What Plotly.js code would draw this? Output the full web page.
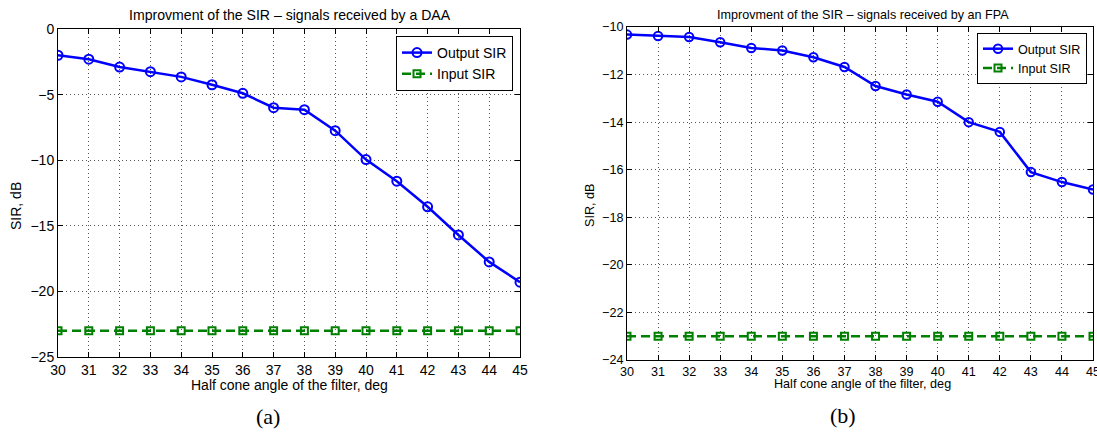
<!DOCTYPE html>
<html>
<head>
<meta charset="utf-8">
<script src="https://cdn.plot.ly/plotly-3.0.1.min.js"></script>
<style>html,body{margin:0;padding:0;background:#fff;}#chart{width:1097px;height:432px;}</style>
</head>
<body>
<div id="chart"></div>
<script>
// Data
const angles = [30,31,32,33,34,35,36,37,38,39,40,41,42,43,44,45];
const daaOutputSIR = [-2.0,-2.3,-2.9,-3.25,-3.65,-4.25,-4.9,-6.0,-6.15,-7.75,-9.95,-11.6,-13.55,-15.7,-17.75,-19.3];
const daaInputSIR  = [-23,-23,-23,-23,-23,-23,-23,-23,-23,-23,-23,-23,-23,-23,-23,-23];
const fpaOutputSIR = [-10.32,-10.38,-10.42,-10.64,-10.88,-10.99,-11.27,-11.68,-12.48,-12.84,-13.14,-14.0,-14.41,-16.1,-16.52,-16.83];
const fpaInputSIR  = [-23,-23,-23,-23,-23,-23,-23,-23,-23,-23,-23,-23,-23,-23,-23,-23];
const seriesNames = ['Output SIR','Input SIR'];
const titleA = 'Improvment of the SIR \u2013 signals received by a DAA';
const titleB = 'Improvment of the SIR \u2013 signals received by an FPA';
const xTitle = 'Half cone angle of the filter, deg';
const yTitle = 'SIR, dB';
const panelLabels = ['(a)','(b)'];

const W = 1097, H = 432;
const px = v => v / W;
const py = v => 1 - v / H;
const FONT = 'Liberation Sans, Arial, Helvetica, sans-serif';
const BLUE = '#0000ff', GREEN = '#008000';

function outTrace(y, xa, ya, lg, ms){
  return {x: angles, y: y, xaxis: xa, yaxis: ya, legend: lg, name: seriesNames[0], type: 'scatter', mode: 'lines+markers',
    line: {color: BLUE, width: 2.5}, marker: {symbol: 'circle-open', size: ms, color: BLUE, line: {width: 2, color: BLUE}}};
}
function inTrace(y, xa, ya, lg, ms){
  return {x: angles, y: y, xaxis: xa, yaxis: ya, legend: lg, name: seriesNames[1], type: 'scatter', mode: 'lines+markers',
    line: {color: GREEN, width: 2.5, dash: '9px,5px'}, marker: {symbol: 'square-open', size: ms, color: GREEN, line: {width: 2, color: GREEN}}};
}

const data = [
  outTrace(daaOutputSIR, 'x', 'y', 'legend', 9),
  inTrace(daaInputSIR, 'x', 'y', 'legend', 7),
  outTrace(fpaOutputSIR, 'x2', 'y2', 'legend2', 8.5),
  inTrace(fpaInputSIR, 'x2', 'y2', 'legend2', 7)
];

function axisBase(fs){
  return {showline: true, linecolor: '#000', linewidth: 1, mirror: 'ticks', ticks: 'inside', ticklen: 5, tickcolor: '#000',
    showgrid: true, gridcolor: '#555', gridwidth: 1, griddash: '1px,3px', zeroline: false, ticklabeloverflow: 'allow',
    tickfont: {family: FONT, size: fs, color: '#000'}, fixedrange: true};
}

function ann(text, x, y, size, extra){
  return Object.assign({text: text, x: px(x), y: py(y), xref: 'paper', yref: 'paper', xanchor: 'center', yanchor: 'middle',
    showarrow: false, font: {family: FONT, size: size, color: '#000'}}, extra || {});
}
const SERIF = {family: 'Liberation Serif, Times New Roman, serif', size: 22, color: '#000'};

const layout = {
  width: W, height: H,
  margin: {l: 0, r: 0, t: 0, b: 0},
  paper_bgcolor: '#fff', plot_bgcolor: '#fff',
  showlegend: true,
  xaxis: Object.assign(axisBase(14), {domain: [px(58), px(520)], range: [30, 45], tickvals: angles, anchor: 'y'}),
  yaxis: Object.assign(axisBase(14), {domain: [py(357), py(29)], range: [-25, 0], dtick: 5, anchor: 'x'}),
  xaxis2: Object.assign(axisBase(12.6), {domain: [px(627), px(1093)], range: [30, 45], tickvals: angles, anchor: 'y2'}),
  yaxis2: Object.assign(axisBase(12.6), {domain: [py(360), py(27)], range: [-24, -10], dtick: 2, anchor: 'x2'}),
  legend: {x: px(513), y: py(36), xanchor: 'right', yanchor: 'top', bgcolor: '#fff', bordercolor: '#000', borderwidth: 1,
    font: {family: FONT, size: 14, color: '#000'}, tracegroupgap: 0, itemwidth: 30},
  legend2: {x: px(1087), y: py(33), xanchor: 'right', yanchor: 'top', bgcolor: '#fff', bordercolor: '#000', borderwidth: 1,
    font: {family: FONT, size: 12.6, color: '#000'}, tracegroupgap: 0, itemwidth: 30},
  annotations: [
    ann(titleA, 290, 15, 14.1),
    ann(titleB, 863, 15, 12.6),
    ann(xTitle, 289, 385, 14),
    ann(xTitle, 862, 384, 12.6),
    ann(yTitle, 16, 206, 14, {textangle: -90}),
    ann(yTitle, 590, 206, 12.6, {textangle: -90}),
    ann(panelLabels[0], 268, 416, 22, {font: SERIF}),
    ann(panelLabels[1], 843, 415, 22, {font: SERIF})
  ]
};

Plotly.newPlot('chart', data, layout, {staticPlot: true, displayModeBar: false});
</script>
</body>
</html>
